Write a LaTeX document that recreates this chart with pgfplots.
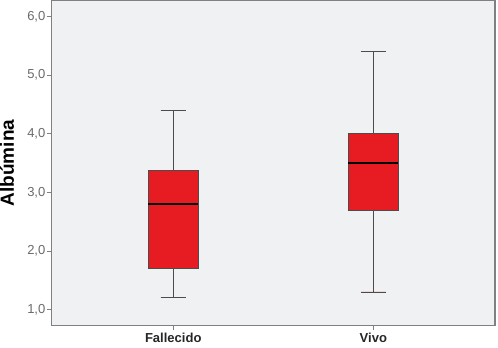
\documentclass[border=0pt]{standalone}
\usepackage{pgfplots}
\pgfplotsset{compat=1.18}
\usepgfplotslibrary{statistics}
\usepackage{fontspec}
\setmainfont{Liberation Sans}
\definecolor{bg}{HTML}{F0F1F3}
\definecolor{boxred}{HTML}{E61C22}
\definecolor{framegray}{HTML}{808080}
\definecolor{ticktext}{HTML}{6A6A6A}
\begin{document}
\begin{tikzpicture}
\begin{axis}[
  scale only axis,
  width=441bp, height=323bp,
  xmin=0.392, xmax=2.608,
  ymin=0.73, ymax=6.27,
  axis background/.style={fill=bg},
  axis line style={framegray, line width=1.2pt},
  xtick={1,2}, xticklabels={Fallecido,Vivo},
  ytick={1,2,3,4,5,6},
  y tick label style={/pgf/number format/use comma, /pgf/number format/fixed, /pgf/number format/fixed zerofill, /pgf/number format/precision=1, font=\fontsize{13}{15}\selectfont, text=ticktext, inner sep=1bp},
  x tick label style={font=\bfseries\fontsize{13}{15}\selectfont, text=black!85, inner sep=2.5bp},
  tick align=outside,
  tick style={framegray, line width=0.8pt},
  major tick length=5bp,
  xtick pos=bottom, ytick pos=left,
  ylabel={\bfseries Albúmina},
  ylabel style={font=\fontsize{19}{21}\selectfont, at={(axis description cs:-0.084,0.5)}, anchor=south, inner sep=0pt},
  /pgf/number format/assume math mode=true,
  boxplot/draw direction=y,
  boxplot/box extend=0.25,
  boxplot/whisker extend=0.125,
]
\addplot[fill=boxred, draw=black!70, line width=0.8pt,
  boxplot prepared={lower whisker=1.20, lower quartile=1.70, median=2.80, upper quartile=3.37, upper whisker=4.40, draw position=1},
  boxplot/every median/.style={draw=black, line width=1.2pt}]
  coordinates {};
\addplot[fill=boxred, draw=black!70, line width=0.8pt,
  boxplot prepared={lower whisker=1.30, lower quartile=2.69, median=3.50, upper quartile=4.00, upper whisker=5.40, draw position=2},
  boxplot/every median/.style={draw=black, line width=1.2pt}]
  coordinates {};
\end{axis}
\path (current axis.south east) ++(3bp,-22bp);
\end{tikzpicture}
\end{document}
